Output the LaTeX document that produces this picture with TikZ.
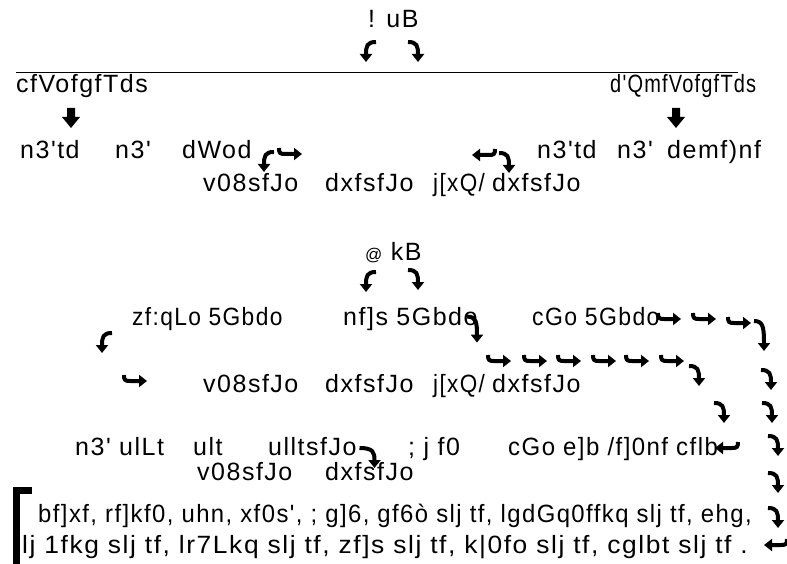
\documentclass[tikz,border=0pt]{standalone}
\usepackage{fontspec}
\usepackage{graphicx}
\setmainfont{Liberation Sans}[LetterSpace=6, Ligatures=TeXOff]
\usetikzlibrary{arrows.meta}

\newcommand{\sq}[2]{\scalebox{#1}[1]{#2}}

\tikzset{
  txt/.style={anchor=base west, inner sep=0pt, font=\fontsize{25}{30}\selectfont},
  curly/.style={line width=4pt, -{Triangle[width=12pt,length=8pt]}},
  curlL/.pic={\draw[curly] (14,2) .. controls (5,2) and (4,6) .. (4,22);},
  curlR/.pic={\draw[curly] (1,2) .. controls (10,2) and (11,6) .. (11,22);},
  hookR/.pic={\draw[curly] (1,1) .. controls (1,6) and (2,7) .. (7,7) -- (24,7);},
  hookL/.pic={\draw[curly] (23,1) .. controls (23,6) and (22,7) .. (17,7) -- (0,7);},
  bigdown/.pic={\fill (5,0) -- (13,0) -- (13,9) -- (18,9) -- (9,20) -- (0,9) -- (5,9) -- cycle;}
}

\begin{document}
\begin{tikzpicture}[x=1pt,y=-1pt]
\useasboundingbox (0,0) rectangle (787,564);
% first part
\node[txt] (one) at (368,28) {! uB};
\pic at (362,40) {curlL};
\pic at (407,40) {curlR};
\draw (16,72) -- (738,72);
\node[txt] (lefthead) at (16,93) {cfVofgfTds};
\node[txt] (righthead) at (610,93) {\sq{0.8}{d'QmfVofgfTds}};
\pic at (62,108) {bigdown};
\pic at (667,108) {bigdown};
\node[txt] (la) at (20,159) {n3'td};
\node[txt] (lb) at (115,159) {n3'};
\node[txt] (lc) at (182,159) {dWod};
\node[txt] (ra) at (537,159) {n3'td};
\node[txt] (rb) at (617,159) {n3'};
\node[txt] (rc) at (667,159) {demf)nf};
\pic at (260,150) {curlL};
\pic at (278,147) {hookR};
\pic at (472,148) {hookL};
\pic at (498,151) {curlR};
\node[txt] (sa) at (203,192) {v08sfJo};
\node[txt] (sb) at (325,192) {dxfsfJo};
\node[txt] (sc) at (433,192) {\sq{0.9}{j[xQ/}};
\node[txt] (sd) at (492,192) {dxfsfJo};
% second part
\node[txt] (two) at (365,260) {{\fontsize{17}{17}\selectfont @} kB};
\pic at (362,270) {curlL};
\pic at (407,268) {curlR};
\node[txt] (ta) at (132,325) {\sq{0.91}{zf:qLo 5Gbdo}};
\node[txt] (tb) at (343,325) {nf]s 5Gbdo};
\node[txt] (tc) at (532,325) {\sq{0.92}{cGo 5Gbdo}};
\pic[yscale=1.3] at (466,314) {curlR};
\pic at (657,312) {hookR};
\pic at (692,312) {hookR};
\pic at (727,316) {hookR};
\pic[yscale=1.5] at (753,318) {curlR};
\pic at (98,331) {curlL};
\pic at (123,374) {hookR};
\foreach \xx in {487,523,557,592,625,660}
  \pic at (\xx,354) {hookR};
\pic at (688,364) {curlR};
\pic at (760,368) {curlR};
\pic at (713,401) {curlR};
\pic at (761,401) {curlR};
\node[txt] (ua) at (203,392) {v08sfJo};
\node[txt] (ub) at (325,392) {dxfsfJo};
\node[txt] (uc) at (433,392) {\sq{0.9}{j[xQ/}};
\node[txt] (ud) at (492,392) {dxfsfJo};
\node[txt] (va) at (75,455) {n3' ulLt};
\node[txt] (vb) at (193,455) {ult};
\node[txt] (vc) at (268,455) {ulltsfJo};
\pic[xscale=1.5] at (358,446) {curlR};
\node[txt] (vd) at (408,455) {; j f0};
\node[txt] (ve) at (508,455) {\sq{0.96}{cGo e]b /f]0nf cflb}};
\pic at (715,441) {hookL};
\foreach \yy in {434,471,506}
  \pic at (767,\yy) {curlR};
\pic at (764,538) {hookL};
\node[txt] (wa) at (197,480) {v08sfJo};
\node[txt] (wb) at (325,480) {dxfsfJo};
% list
\fill (13,487) rectangle (20,564);
\fill (13,487) rectangle (32,494);
\node[txt] (xa) at (38,522) {\sq{0.955}{bf]xf, rf]kf0, uhn, xf0s', ; g]6, gf6ò slj tf, lgdGq0ffkq slj tf, ehg,}};
\node[txt] (xb) at (22,553) {\sq{1.055}{lj 1fkg slj tf, lr7Lkq slj tf, zf]s slj tf, k|0fo slj tf, cglbt slj tf .}};
\end{tikzpicture}
\end{document}
